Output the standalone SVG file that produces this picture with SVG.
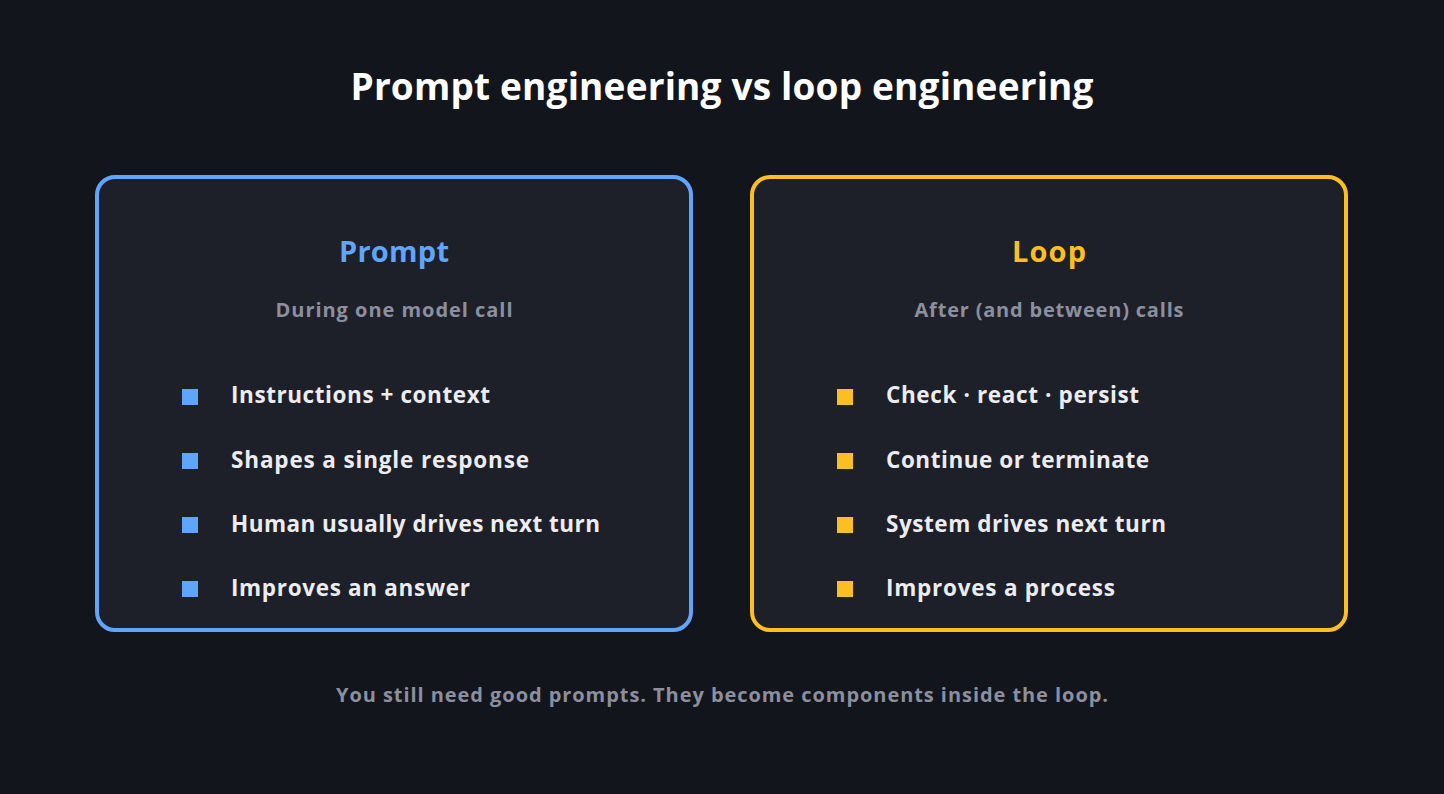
<svg xmlns="http://www.w3.org/2000/svg" width="1444" height="794" viewBox="0 0 1444 794">
<style>
text{font-family:"Open Sans","Noto Sans",sans-serif;font-weight:700}
.title{font-size:37px;fill:#ffffff}
.head{font-size:29px}
.sub{font-size:20px;fill:#8b8f9e}
.item{font-size:22.5px;fill:#ececf1}
.panel{fill:#1e2029;stroke-width:4}
</style>
<rect width="1444" height="794" fill="#13151c"/>
<text class="title" x="722" y="100" text-anchor="middle" textLength="743">Prompt engineering vs loop engineering</text>
<g id="prompt">
<rect class="panel" x="97" y="177" width="594" height="453" rx="18" stroke="#60a5fa"/>
<text class="head" x="394" y="262" text-anchor="middle" fill="#60a5fa" textLength="110">Prompt</text>
<text class="sub" x="394" y="317" text-anchor="middle" textLength="237">During one model call</text>
<g fill="#60a5fa"><rect x="182" y="389" width="16" height="16"/><rect x="182" y="453" width="16" height="16"/><rect x="182" y="517" width="16" height="16"/><rect x="182" y="581" width="16" height="16"/></g>
<text class="item" x="231" y="403" textLength="259">Instructions + context</text>
<text class="item" x="231" y="468" textLength="298">Shapes a single response</text>
<text class="item" x="231" y="532" textLength="369">Human usually drives next turn</text>
<text class="item" x="231" y="596" textLength="239">Improves an answer</text>
</g>
<g id="loop">
<rect class="panel" x="752" y="177" width="594" height="453" rx="18" stroke="#fbbf24"/>
<text class="head" x="1049" y="262" text-anchor="middle" fill="#fbbf24" textLength="74">Loop</text>
<text class="sub" x="1049" y="317" text-anchor="middle" textLength="269">After (and between) calls</text>
<g fill="#fbbf24"><rect x="837" y="389" width="16" height="16"/><rect x="837" y="453" width="16" height="16"/><rect x="837" y="517" width="16" height="16"/><rect x="837" y="581" width="16" height="16"/></g>
<text class="item" x="886" y="403" textLength="253">Check · react · persist</text>
<text class="item" x="886" y="468" textLength="263">Continue or terminate</text>
<text class="item" x="886" y="532" textLength="280">System drives next turn</text>
<text class="item" x="886" y="596" textLength="229">Improves a process</text>
</g>
<g id="connectors"/>
<text class="sub" x="722" y="702" text-anchor="middle" textLength="772">You still need good prompts. They become components inside the loop.</text>
</svg>
